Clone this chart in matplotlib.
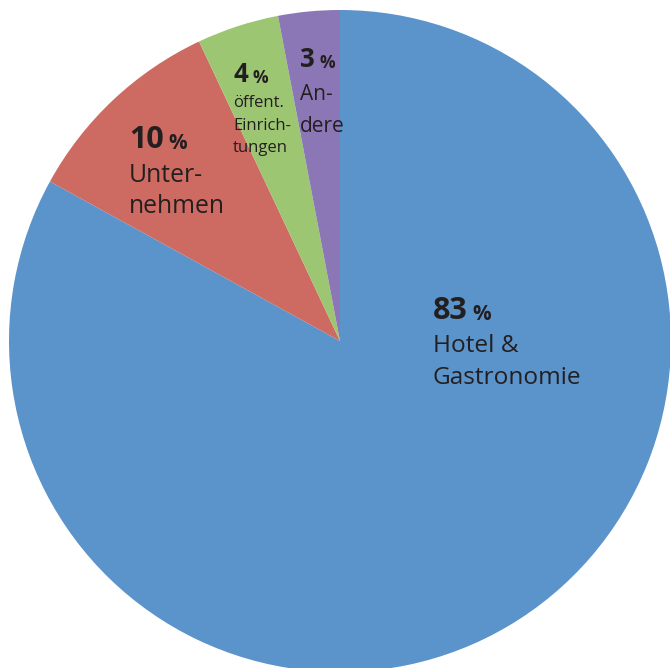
import matplotlib
matplotlib.use("Agg")
import matplotlib.pyplot as plt

# shares in percent, clockwise from 12 o'clock
values = [83, 10, 4, 3]
numbers = ["83", "10", "4", "3"]
names = [["Hotel &", "Gastronomie"], ["Unter-", "nehmen"],
         ["öffent.", "Einrich-", "tungen"], ["An-", "dere"]]
colors = ["#5b93cb", "#cd6a62", "#9dc673", "#8c77b6"]

W, H = 670, 668
CX, CY, R = 340, 341, 331  # pie centre / radius in pixels

# label layout in pixels from top-left: x, number baseline, line baselines
label_x = [433, 129, 233, 300]
num_base = [319, 148, 82, 67]
line_base = [[352, 384], [182, 213], [107, 130, 152], [100, 132]]
num_size = [22, 22, 18.5, 18.5]
name_size = [17.6, 17.8, 12, 15]

plt.rcParams["font.family"] = ["Open Sans", "DejaVu Sans"]
ink = "#231f20"

fig = plt.figure(figsize=(W / 100, H / 100), dpi=100)
ax = fig.add_axes([0, 0, 1, 1])
ax.pie(values, colors=colors, startangle=90, counterclock=False,
       radius=1, center=(0, 0), wedgeprops=dict(linewidth=0))
ax.set_xlim(-CX / R, (W - CX) / R)
ax.set_ylim(-(H - CY) / R, CY / R)
ax.set_aspect("auto")
ax.axis("off")

for i in range(len(values)):
    fx = label_x[i] / W
    t = fig.text(fx, 1 - num_base[i] / H, numbers[i], fontsize=num_size[i],
                 fontweight="bold", color=ink, va="baseline", ha="left")
    ax.annotate("%", xy=(1, 0), xycoords=t, xytext=(3.5, 1),
                textcoords="offset points", fontsize=num_size[i] * 0.68,
                fontweight="bold", color=ink, va="bottom", ha="left")
    for line, yb in zip(names[i], line_base[i]):
        fig.text(fx, 1 - yb / H, line, fontsize=name_size[i], color=ink,
                 va="baseline", ha="left")

fig.savefig("out.png", dpi=100)
